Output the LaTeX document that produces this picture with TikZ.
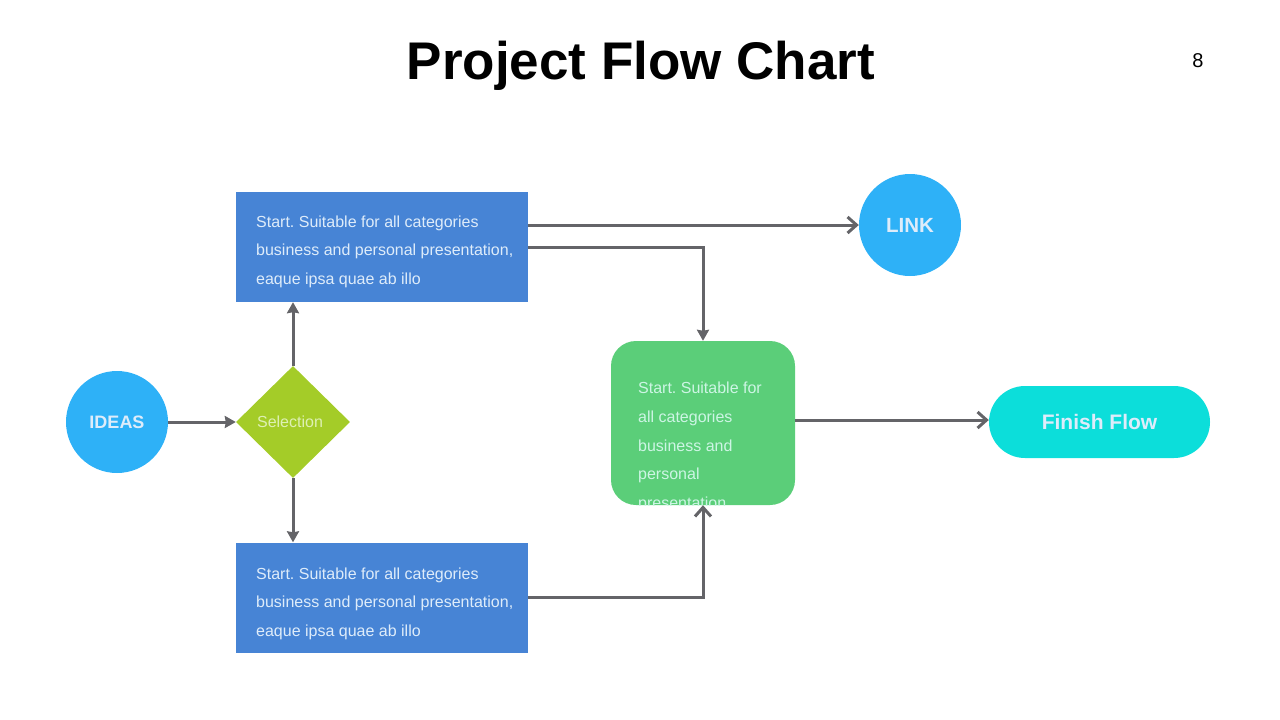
\documentclass[tikz,border=0pt]{standalone}
\usepackage{fontspec}
\setmainfont{Liberation Sans}
\usepackage{tikz}
\usetikzlibrary{arrows.meta}
\usetikzlibrary{shapes.geometric}
\usetikzlibrary{calc}
\frenchspacing

\definecolor{ideablue}{RGB}{46,177,247}
\definecolor{boxblue}{RGB}{71,132,213}
\definecolor{selgreen}{RGB}{164,204,40}
\definecolor{midgreen}{RGB}{91,206,121}
\definecolor{finishcyan}{RGB}{12,222,218}
\definecolor{linegray}{RGB}{100,100,104}
\definecolor{paletext}{RGB}{222,236,250}

\tikzset{
	roundnode/.style={circle,fill=ideablue,minimum size=102pt,inner sep=0pt,
		text=paletext,font=\fontsize{20}{24}\selectfont\bfseries},
	bluebox/.style={rectangle,fill=boxblue,minimum width=292pt,minimum height=110pt,inner sep=0pt},
	boxtext/.style={anchor=west,inner sep=0pt,align=left,text=paletext,
		font=\fontsize{16}{28.5}\selectfont},
	flow/.style={draw=linegray,line width=3pt},
	tip/.style={-{Stealth[length=11pt,width=12pt,inset=1pt]}},
	barb/.style={-{Straight Barb[length=9pt,width=16pt,line width=3pt]}}
}

\begin{document}
\begin{tikzpicture}[x=1pt,y=-1pt]
\useasboundingbox (0,0) rectangle (1280,720);

\node[anchor=base,font=\fontsize{53}{60}\selectfont\bfseries] (title) at (641,79) {Project Flow Chart};
\node[font=\fontsize{20}{24}\selectfont] (pagenum) at (1198,61) {8};

% shapes
\node[roundnode,font=\fontsize{18}{22}\selectfont\bfseries] (ideas) at (117,422) {IDEAS};
\node[diamond,fill=selgreen,minimum width=114pt,minimum height=112pt,inner sep=0pt,
	text={rgb,255:red,222;green,240;blue,180},font=\fontsize{16}{20}\selectfont] (sel) at (293,422) {\hspace*{-6pt}Selection};

\node[bluebox] (topbox) at (382,247) {};
\node[boxtext] (toptext) at (256,251.5) {Start. Suitable for all categories\\business and personal presentation,\\eaque ipsa quae ab illo};

\node[bluebox] (botbox) at (382,597.5) {};
\node[boxtext] (bottext) at (256,603.5) {Start. Suitable for all categories\\business and personal presentation,\\eaque ipsa quae ab illo};

\node[roundnode,font=\fontsize{20.5}{24}\selectfont\bfseries] (link) at (910,225) {LINK};

\node[rectangle,rounded corners=25pt,fill=midgreen,minimum width=184pt,minimum height=164pt] (mid) at (703,423) {};
\begin{scope}
\clip[rounded corners=25pt] (mid.south west) rectangle (mid.north east);
\node[boxtext,text={rgb,255:red,205;green,245;blue,228},font=\fontsize{16}{28.7}\selectfont] (midtext) at (638,447)
	{Start. Suitable for\\all categories\\business and\\personal\\presentation};
\end{scope}

\node[rectangle,rounded corners=36pt,fill=finishcyan,minimum width=221pt,minimum height=72pt,
	text=paletext,font=\fontsize{21}{24}\selectfont\bfseries] (finish) at (1099.5,422) {Finish Flow};

% connectors
\draw[flow,tip] (ideas) -- (sel);
\draw[flow,tip] (sel.north) -- (sel.north |- topbox.south);
\draw[flow,tip] (sel.south) -- (sel.south |- botbox.north);
\draw[flow,barb] (topbox.east |- link.west) -- (link.west);
\draw[flow,tip] (topbox.east) -| (mid.north);
\draw[flow,barb] (botbox.east) -| (mid.south);
\draw[flow,barb] (mid.east |- 0,420) -- (finish.west |- 0,420);

\end{tikzpicture}
\end{document}
